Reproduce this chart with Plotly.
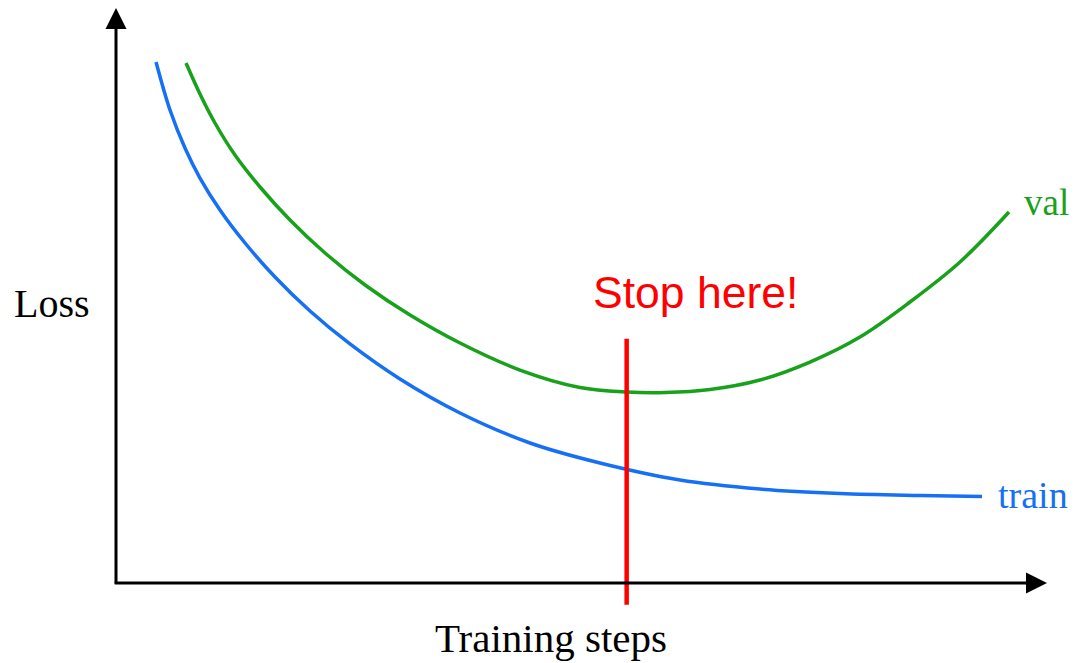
import plotly.graph_objects as go

# ---- data (x = training steps, y = loss, arbitrary units 0-100) ----
train_steps = [4.30, 5.80, 7.41, 9.02, 11.17, 13.86, 17.08, 20.84, 25.13, 30.50, 36.95,
               44.47, 51.99, 60.58, 69.17, 77.77, 86.36, 93.02]
train_loss = [90.61, 82.26, 75.65, 70.43, 64.87, 59.13, 53.22, 47.30, 41.57, 35.48, 29.57,
              24.35, 20.87, 17.91, 16.35, 15.57, 15.22, 15.04]

val_steps = [7.52, 9.02, 10.63, 12.78, 15.47, 18.69, 22.45, 26.75, 31.58, 36.95, 43.39,
             49.84, 54.89, 58.97, 63.80, 69.17, 74.54, 79.91, 85.28, 90.66, 95.92]
val_loss = [90.43, 85.04, 80.00, 74.43, 68.87, 63.13, 57.39, 51.83, 46.61, 41.74, 37.04,
            34.00, 33.22, 33.13, 33.65, 35.30, 38.43, 42.78, 48.87, 55.83, 64.52]

stop_step = 54.85
stop_line_y = [42.5, -3.8]

series_names = ["train", "val"]
x_label = "Training steps"
y_label = "Loss"
stop_text = "Stop here!"

BLUE = "#1670F5"
GREEN = "#18A11A"
RED = "#FF0000"
SERIF = "Liberation Serif, Times New Roman, serif"

fig = go.Figure()
fig.add_trace(go.Scatter(x=train_steps, y=train_loss, mode="lines", name=series_names[0],
                         line=dict(color=BLUE, width=3.5, shape="spline", smoothing=1.0)))
fig.add_trace(go.Scatter(x=val_steps, y=val_loss, mode="lines", name=series_names[1],
                         line=dict(color=GREEN, width=3.5, shape="spline", smoothing=1.0)))
fig.add_trace(go.Scatter(x=[stop_step, stop_step], y=stop_line_y, mode="lines",
                         line=dict(color=RED, width=4.5), showlegend=False))

annotations = [
    # axes with arrowheads
    dict(x=100, y=0, ax=-0.3, ay=0, xref="x", yref="y", axref="x", ayref="y", text="",
         showarrow=True, arrowhead=2, arrowwidth=3, arrowsize=1.4, arrowcolor="black"),
    dict(x=0, y=100, ax=0, ay=-0.4, xref="x", yref="y", axref="x", ayref="y", text="",
         showarrow=True, arrowhead=2, arrowwidth=3, arrowsize=1.4, arrowcolor="black"),
    # axis titles
    dict(x=0.0411, y=0.5496, xref="paper", yref="paper", text=y_label, showarrow=False,
         font=dict(family=SERIF, size=40, color="black"), xanchor="center", yanchor="middle"),
    dict(x=0.5075, y=0.0382, xref="paper", yref="paper", text=x_label, showarrow=False,
         font=dict(family=SERIF, size=41, color="black"), xanchor="center", yanchor="middle"),
    # series labels
    dict(x=val_steps[-1], y=val_loss[-1], xref="x", yref="y", text=series_names[1],
         showarrow=False, xanchor="left", yanchor="middle", xshift=13, yshift=10,
         font=dict(family=SERIF, size=37, color=GREEN)),
    dict(x=train_steps[-1], y=train_loss[-1], xref="x", yref="y", text=series_names[0],
         showarrow=False, xanchor="left", yanchor="middle", xshift=14, yshift=2,
         font=dict(family=SERIF, size=38, color=BLUE)),
    # stop text
    dict(x=stop_step, y=stop_line_y[0], xref="x", yref="y", text=stop_text,
         showarrow=False, xanchor="left", yanchor="bottom", xshift=-36, yshift=20,
         font=dict(family="Liberation Sans, Arial, sans-serif", size=44.5, color=RED)),
]

fig.update_layout(
    width=1070, height=655,
    margin=dict(l=0, r=0, t=0, b=0),
    paper_bgcolor="white", plot_bgcolor="white",
    showlegend=False,
    xaxis=dict(range=[-11.60, 103.33], visible=False, fixedrange=True),
    yaxis=dict(range=[-13.91, 100.0], visible=False, fixedrange=True),
    annotations=annotations,
)

fig.write_html("out.html")
